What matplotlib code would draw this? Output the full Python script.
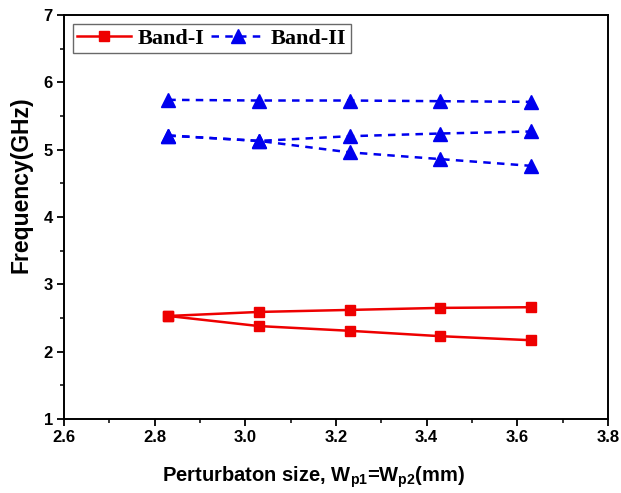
import matplotlib
matplotlib.use("Agg")
import matplotlib.pyplot as plt
from matplotlib.ticker import MultipleLocator

plt.rcParams['font.family'] = ['Liberation Sans', 'DejaVu Sans']
plt.rcParams['mathtext.fontset'] = 'custom'
plt.rcParams['mathtext.rm'] = 'Liberation Sans:bold'
plt.rcParams['mathtext.bf'] = 'Liberation Sans:bold'
plt.rcParams['mathtext.it'] = 'Liberation Sans:bold'

# Data
x = [2.83, 3.03, 3.23, 3.43, 3.63]
band1_upper = [2.53, 2.59, 2.62, 2.65, 2.66]
band1_lower = [2.53, 2.38, 2.31, 2.23, 2.17]
band2_top = [5.74, 5.73, 5.73, 5.72, 5.71]
band2_mid_upper = [5.21, 5.13, 5.20, 5.24, 5.27]
band2_mid_lower = [5.21, 5.13, 4.96, 4.86, 4.76]

fig = plt.figure(figsize=(6.21, 4.93), dpi=100)
ax = fig.add_axes([64/621, 1-419/493, (608-64)/621, (419-15)/493])

red = '#ee0000'
blue = '#0000ee'
dash = (0, (3, 2.5))
l1, = ax.plot(x, band1_upper, color=red, lw=1.8, marker='s', ms=7.5, label='Band-I')
ax.plot(x, band1_lower, color=red, lw=1.8, marker='s', ms=7.5)
l2, = ax.plot(x, band2_top, color=blue, lw=1.8, ls=dash, marker='^', ms=9.5, label='Band-II')
ax.plot(x, band2_mid_upper, color=blue, lw=1.8, ls=dash, marker='^', ms=9.5)
ax.plot(x, band2_mid_lower, color=blue, lw=1.8, ls=dash, marker='^', ms=9.5)

ax.set_xlim(2.6, 3.8)
ax.set_ylim(1, 7)
ax.xaxis.set_major_locator(MultipleLocator(0.2))
ax.xaxis.set_minor_locator(MultipleLocator(0.1))
ax.yaxis.set_major_locator(MultipleLocator(1))
ax.yaxis.set_minor_locator(MultipleLocator(0.5))
ax.xaxis.set_major_formatter(matplotlib.ticker.FormatStrFormatter('%.1f'))

ax.tick_params(which='major', direction='out', length=5, width=1.3, labelsize=12,
               top=False, right=False, pad=3)
ax.tick_params(which='minor', direction='out', length=3, width=1.1, top=False, right=False)
for lab in ax.get_xticklabels() + ax.get_yticklabels():
    lab.set_fontweight('bold')
for s in ax.spines.values():
    s.set_linewidth(1.4)

ax.set_xlabel(r'Perturbaton size, W$_{\mathbf{p1}}$=W$_{\mathbf{p2}}$(mm)',
              fontsize=14.5, fontweight='bold')
ax.xaxis.set_label_coords(0.458, -0.112)
ax.set_ylabel('Frequency(GHz)', fontsize=16.5, fontweight='bold')
ax.yaxis.set_label_coords(-0.057, 0.58)

leg = ax.legend(handles=[l1, l2], loc='upper left', ncol=2, frameon=True, fancybox=False,
                prop={'family': 'Liberation Serif', 'weight': 'bold', 'size': 16},
                handlelength=2.4, columnspacing=0.3, handletextpad=0.3,
                borderpad=0.2, borderaxespad=0.4)
leg.get_frame().set_edgecolor('#444444')
leg.get_frame().set_linewidth(1.0)

fig.savefig('out.png', dpi=100)
